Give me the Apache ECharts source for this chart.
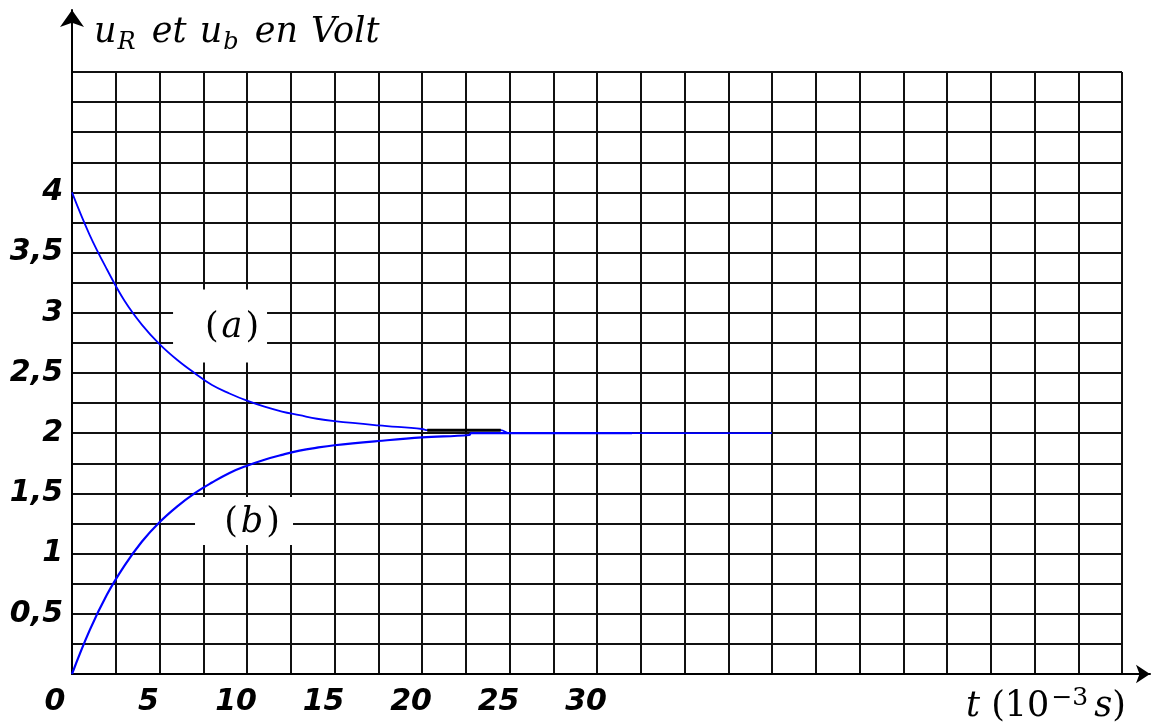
<!DOCTYPE html>
<html><head><meta charset="utf-8">
<script src="https://cdn.jsdelivr.net/npm/echarts@6/dist/echarts.min.js"></script>
<style>html,body{margin:0;padding:0;background:#fff}#c{width:1152px;height:728px}</style>
</head><body><div id="c"></div>
<script>
// curve (a): u_R decaying from 4 V to 2 V
const timeA = [0, 1, 2, 3, 4, 5, 6, 7, 8, 9, 10, 11, 12, 13, 14, 15, 17.5, 20, 20.3, 24.5, 25, 30, 35, 40];
const voltA = [4.0, 3.65, 3.36, 3.10, 2.90, 2.74, 2.61, 2.50, 2.40, 2.33, 2.27, 2.22, 2.18, 2.15, 2.12, 2.10, 2.065, 2.035, 2.025, 2.025, 2.0, 2.0, 2.0, 2.0];
// curve (b): u_b rising from 0 V to 2 V
const timeB = [0, 1, 2, 3, 4, 5, 6, 7, 8, 9, 10, 11, 12, 13, 14, 15, 17.5, 20, 22.7, 22.8, 27, 32];
const voltB = [0, 0.36, 0.66, 0.90, 1.10, 1.26, 1.39, 1.50, 1.59, 1.67, 1.73, 1.78, 1.82, 1.855, 1.88, 1.90, 1.935, 1.965, 1.985, 2.0, 2.0, 2.0];
// short dark overlap segment near the asymptote
const overlapTime = [20.3, 24.5];
const overlapVolt = [2.025, 2.025];
// tick labels
const xTickLabels = [0, 5, 10, 15, 20, 25, 30];
const yTickLabels = [0.5, 1, 1.5, 2, 2.5, 3, 3.5, 4];
// curve names
const curveNames = ['a', 'b'];

const pairs = (xs, ys) => xs.map((x, i) => [x, ys[i]]);
const has = (arr, v) => arr.some(a => Math.abs(a - v) < 1e-6);

const chart = echarts.init(document.getElementById('c'), null, {renderer: 'canvas'});
const serif = "'DejaVu Serif', 'Liberation Serif', serif";
const labFont = {fontFamily: "'DejaVu Sans', sans-serif", fontWeight: 'bold', fontStyle: 'italic', fontSize: 30, color: '#000'};
const it = {fontFamily: serif, fontStyle: 'italic', fontWeight: 'normal', fontSize: 35, lineHeight: 42, color: '#000'};

chart.setOption({
  animation: false,
  backgroundColor: '#fff',
  title: [
    {
      left: 94, top: 12, padding: 0,
      text: '{m|u}{s|R}{g| }{m|et}{g| }{m|u}{s|b}{g| }{m|en}{g| }{m|Volt}',
      textStyle: {
        fontWeight: 'normal',
        rich: {
          m: it,
          g: Object.assign({}, it, {padding: [0, 1, 0, 1]}),
          s: {fontFamily: serif, fontStyle: 'italic', fontWeight: 'normal', fontSize: 24, lineHeight: 24, padding: [19, 3, 0, 1], color: '#000'}
        }
      }
    },
    {
      left: 966, top: 686, padding: 0,
      text: '{i|t}{m| (10}{p|\u22123}{i|s}{m|)}',
      textStyle: {
        fontWeight: 'normal',
        rich: {
          i: it,
          m: Object.assign({}, it, {fontStyle: 'normal'}),
          p: {fontFamily: serif, fontWeight: 'normal', fontSize: 25, lineHeight: 25, padding: [0, 6, 18, 2], color: '#000'}
        }
      }
    }
  ],
  grid: [
    {left: 72, right: 30, top: 72, bottom: 54},
    {left: 72, right: 2, top: 10, bottom: 54}
  ],
  xAxis: [
    {
      gridIndex: 0, type: 'value', min: 0, max: 60, interval: 2.5,
      axisLine: {show: false}, axisTick: {show: false},
      splitLine: {show: true, lineStyle: {color: '#111', width: 2}},
      axisLabel: {
        margin: 13,
        formatter: v => has(xTickLabels, v) ? (v === 0 ? '{z|0}' : '{n|' + v + '}') : '',
        rich: {
          n: Object.assign({padding: [0, 22, 0, 0]}, labFont),
          z: Object.assign({padding: [0, 34, 0, 0]}, labFont)
        }
      }
    },
    {
      gridIndex: 1, type: 'value', min: 0, max: 1,
      axisLine: {show: true, symbol: ['none', 'arrow'], symbolSize: [14, 14], lineStyle: {color: '#000', width: 2}},
      axisTick: {show: false}, axisLabel: {show: false}, splitLine: {show: false}
    }
  ],
  yAxis: [
    {
      gridIndex: 0, type: 'value', min: 0, max: 5, interval: 0.25,
      axisLine: {show: false}, axisTick: {show: false},
      splitLine: {show: true, lineStyle: {color: '#111', width: 2}},
      axisLabel: Object.assign({
        margin: 9,
        formatter: v => has(yTickLabels, v) ? String(v).replace('.', ',') : ''
      }, labFont)
    },
    {
      gridIndex: 1, type: 'value', min: 0, max: 1,
      axisLine: {show: true, symbol: ['none', 'arrow'], symbolSize: [18, 17], lineStyle: {color: '#000', width: 2}},
      axisTick: {show: false}, axisLabel: {show: false}, splitLine: {show: false}
    }
  ],
  series: [
    {
      name: 'labels', type: 'scatter', xAxisIndex: 0, yAxisIndex: 0, z: 1,
      symbol: 'rect', silent: true,
      itemStyle: {color: '#fff', opacity: 1},
      emphasis: {disabled: true},
      data: [
        {value: [8.46, 2.89], symbolSize: [94, 73], name: curveNames[0], label: {offset: [12, 2]}},
        {value: [9.83, 1.27], symbolSize: [98, 48], name: curveNames[1], label: {offset: [8, 2]}}
      ],
      label: {
        show: true, position: 'inside', opacity: 1,
        formatter: p => '{p|(}{i|' + p.name + '}{p|)}',
        rich: {
          p: {fontFamily: serif, fontSize: 35, color: '#000', padding: [0, 3, 0, 3]},
          i: {fontFamily: serif, fontStyle: 'italic', fontSize: 35, color: '#000'}
        }
      }
    },
    {
      name: 'u_R', type: 'line', xAxisIndex: 0, yAxisIndex: 0, z: 3,
      data: pairs(timeA, voltA), smooth: 0.4, showSymbol: false,
      lineStyle: {color: '#0000ff', width: 1.8}
    },
    {
      name: 'u_b', type: 'line', xAxisIndex: 0, yAxisIndex: 0, z: 3,
      data: pairs(timeB, voltB), smooth: 0.4, showSymbol: false,
      lineStyle: {color: '#0000ff', width: 2.2}
    },
    {
      name: 'overlap', type: 'line', xAxisIndex: 0, yAxisIndex: 0, z: 4,
      data: pairs(overlapTime, overlapVolt), showSymbol: false,
      lineStyle: {color: '#000', width: 3}
    }
  ]
});
</script></body></html>
